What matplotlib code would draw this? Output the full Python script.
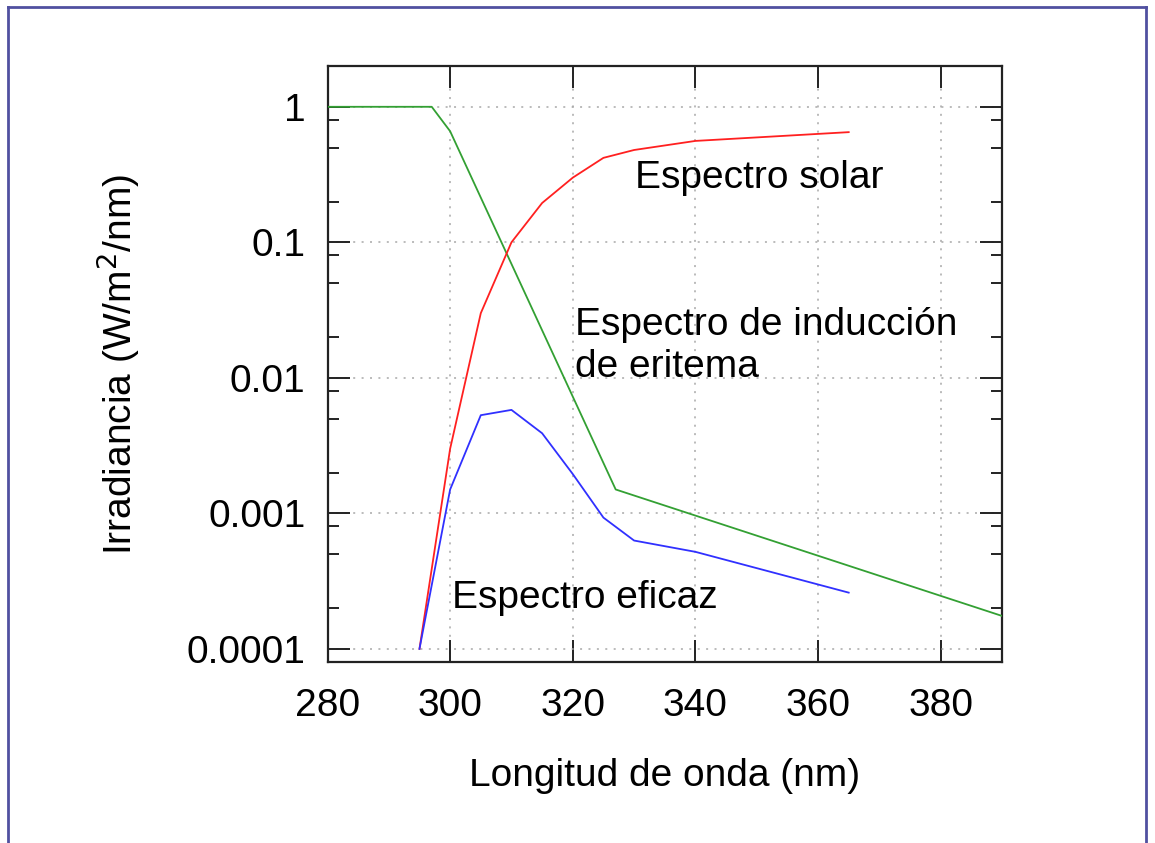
import matplotlib
matplotlib.use("Agg")
import matplotlib.pyplot as plt
from matplotlib.ticker import LogLocator, FixedLocator, NullFormatter, FuncFormatter
from matplotlib.lines import Line2D

plt.rcParams['font.family'] = ['Liberation Sans', 'DejaVu Sans']

# Data
wl_erythema = [280, 297, 300, 327, 390]
erythema = [1.0, 1.0, 0.66, 0.0015, 0.000175]

wl_solar = [295, 300, 305, 310, 315, 320, 325, 330, 340, 365]
solar = [0.0001, 0.003, 0.030, 0.10, 0.195, 0.30, 0.42, 0.48, 0.56, 0.65]

wl_effective = [295, 300, 305, 310, 315, 320, 325, 330, 340, 365]
effective = [0.0001, 0.0015, 0.0053, 0.0058, 0.0039, 0.00195, 0.00093, 0.00063, 0.00052, 0.00026]

x_ticks = [280, 300, 320, 340, 360, 380]
y_ticks = [1, 0.1, 0.01, 0.001, 0.0001]
y_tick_labels = ['1', '0.1', '0.01', '0.001', '0.0001']

W, H = 1155, 843
fig = plt.figure(figsize=(W / 100, H / 100), dpi=100)
ax = fig.add_axes([327.5 / W, 1 - 662 / H, (1002 - 327.5) / W, (662 - 66) / H])

ax.plot(wl_erythema, erythema, color='#33a033', lw=1.3, zorder=3)
ax.plot(wl_solar, solar, color='#ff2020', lw=1.3, zorder=3)
ax.plot(wl_effective, effective, color='#3030ff', lw=1.3, zorder=3)

ax.set_yscale('log')
ax.set_xlim(280, 390)
ax.set_ylim(8e-5, 2)

ax.xaxis.set_major_locator(FixedLocator(x_ticks))
ax.yaxis.set_major_locator(FixedLocator(y_ticks))
ax.yaxis.set_major_formatter(FuncFormatter(lambda v, p: y_tick_labels[y_ticks.index(min(y_ticks, key=lambda t: abs(t - v)))]))
ax.yaxis.set_minor_locator(LogLocator(base=10, subs=[2, 5, 8], numticks=20))
ax.yaxis.set_minor_formatter(NullFormatter())

ax.tick_params(which='both', direction='in', top=True, right=True, colors='#222222', labelcolor='black')
ax.tick_params(which='major', length=16, width=1.4, labelsize=28, pad=16)
ax.tick_params(which='minor', length=8, width=1.4)
ax.tick_params(axis='x', which='major', pad=19)

for s in ax.spines.values():
    s.set_linewidth(1.6)
    s.set_color('#222222')

ax.grid(True, which='major', color='#a8a8a8', lw=1.1, linestyle=(0, (1.3, 4.2)))
ax.set_axisbelow(True)

ax.set_xlabel('Longitud de onda (nm)', fontsize=28, labelpad=24)
ax.set_ylabel('Irradiancia (W/m$^2$/nm)', fontsize=28, labelpad=32)

ax.text(330.2, 0.298, 'Espectro solar', fontsize=28, va='center', ha='left')
ax.text(320.4, 0.0171, 'Espectro de inducción\nde eritema', fontsize=28, va='center', ha='left', linespacing=1.2)
ax.text(300.3, 0.000239, 'Espectro eficaz', fontsize=28, va='center', ha='left')

# Outer frame
bc = '#5050a0'
fig.add_artist(Line2D([8 / W, 8 / W], [0, 1 - 7 / H], transform=fig.transFigure, color=bc, lw=2))
fig.add_artist(Line2D([8 / W, 1146 / W], [1 - 7 / H, 1 - 7 / H], transform=fig.transFigure, color=bc, lw=2))
fig.add_artist(Line2D([1146 / W, 1146 / W], [0, 1 - 7 / H], transform=fig.transFigure, color=bc, lw=2))

fig.savefig('out.png', dpi=100)
